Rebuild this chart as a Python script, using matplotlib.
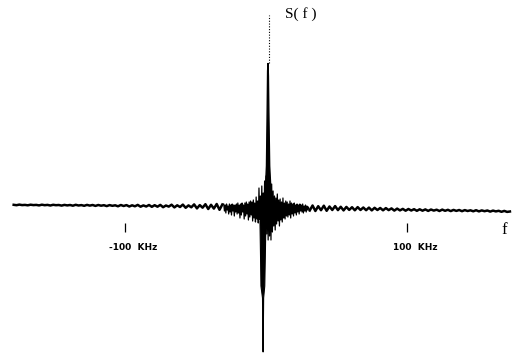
import numpy as np
import matplotlib
matplotlib.use('Agg')
import matplotlib.pyplot as plt

# spectrum S(f), frequency in kHz, amplitude in arbitrary units
# outer left band, every 2 kHz from -179 to -31
f_left = np.arange(-179, -30, 2)
s_left = [1.2, 0.8, 1.4, 0.9, 1.1, 0.7, 1.3, 0.9, 1.1, 0.6,
          1.3, 0.8, 1.1, 0.5, 1.2, 0.8, 1.0, 0.4, 1.1, 0.6,
          1.0, 0.3, 1.2, 0.5, 0.9, 0.2, 1.1, 0.4, 1.0, 0.1,
          1.0, 0.3, 0.8, -0.1, 0.9, 0.2, 0.7, -0.3, 1.0, 0.0,
          0.9, -0.5, 0.7, -0.3, 1.1, -0.7, 0.6, -0.5, 1.0, -0.8,
          0.8, -0.7, 1.1, -1.2, 0.5, -0.6, 1.3, -1.4, 0.7, -1.0,
          1.4, -1.8, 0.6, -1.3, 1.6, -2.4, 0.9, -1.7, 1.8, -3.0,
          1.2, -2.6, 2.0, -3.8, 1.5]

# burst around the carrier, every 0.5 kHz from -30 to 30
f_mid = np.arange(-30, 30.5, 0.5)
s_mid = [2, -5, 1, -7, 2, -4, 0, -8, 2, -6,
         1, -9, 2, -5, 1, -10, 1, -6, 2, -8,
         3, -7, 1, -12, 2, -9, 3, -6, 1, -13,
         3, -10, 4, -8, 2, -14, 4, -11, 5, -9,
         4, -15, 6, -12, 3, -16, 9, -13, 5, -17,
         18, -14, 10, -17, 20, -22, 13, -18, 25, -30,
         30, -28, 35, -34, 40, -30, 28, -34, 22, -26,
         15, -20, 10, -24, 8, -18, 12, -15, 6, -20,
         7, -14, 4, -16, 8, -12, 3, -13, 5, -10,
         4, -11, 2, -9, 5, -12, 3, -8, 2, -10,
         3, -7, 1, -9, 2, -6, 1, -8, 2, -5,
         1, -6, 2, -7, 0, -5, 1, -6, 0, -4,
         -1]

# outer right band, every 2 kHz from 31 to 173
f_right = np.arange(31, 174, 2)
s_right = [-4.5, 0.5, -5.0, -0.2, -4.2, 0.3, -4.8, -0.5, -4.0, -0.1,
           -4.1, -0.8, -4.4, -0.9, -3.9, -1.2, -4.3, -1.1, -4.0, -1.5,
           -4.2, -1.6, -4.4, -1.8, -4.0, -2.0, -4.3, -2.1, -4.1, -2.4,
           -4.6, -2.6, -4.4, -2.9, -4.7, -3.0, -4.5, -3.2, -4.8, -3.3,
           -4.7, -3.4, -4.9, -3.5, -4.6, -3.7, -5.0, -3.6, -4.8, -3.8,
           -5.1, -3.9, -4.9, -4.0, -5.2, -4.1, -5.0, -4.3, -5.3, -4.2,
           -5.4, -4.4, -5.2, -4.5, -5.6, -4.6, -5.4, -4.8, -5.8, -4.9,
           -5.9, -5.5]

# carrier peak (up) and the negative line just left of it
carrier_f = [-0.5, 0.3, 0.8, 1.1, 1.4, 1.7, 2.0, 2.6, 3.5]
carrier_s = [15, 40, 95, 135, 143, 130, 95, 40, 15]
neg_f = [-4.3, -3.9, -3.6, -2.5, -2.15, -2.05, -1.7, -0.9, -0.5, -0.1]
neg_s = [-15, -50, -80, -92, -146, -146, -92, -80, -50, -15]

tick_khz = [-100, 100]
tick_labels = ['-100  KHz', '100  KHz']

fig = plt.figure(figsize=(5.15, 3.54), dpi=100)
ax = fig.add_axes([0, 0, 1, 1])
ax.set_xlim(-188.7, 176.6)
ax.set_ylim(-148, 206)
ax.axis('off')

ax.plot(f_left, s_left, color='black', lw=1.8)
ax.plot(f_right, s_right, color='black', lw=1.8)
ax.plot(np.concatenate([f_left[-1:], f_mid, f_right[:1]]),
        np.concatenate([s_left[-1:], s_mid, s_right[:1]]), color='black', lw=0.9)
ax.fill(carrier_f, carrier_s, color='black', lw=1.0)
ax.fill(neg_f, neg_s, color='black', lw=0.8)

# dotted vertical S(f) axis above the peak
ax.vlines(1.8, 143, 191, colors='black', linestyles=(0, (1, 1.5)), lw=0.8)

ax.vlines(tick_khz, -26, -17, colors='black', lw=0.9)
for t, lab in zip(tick_khz, tick_labels):
    ax.text(t + 6, -41.5, lab, ha='center', va='center', fontsize=6.5,
            fontweight='bold', family='DejaVu Sans')

ax.text(13.5, 192, 'S( f )', ha='left', va='center', fontsize=11,
        family='Liberation Serif')
ax.text(169, -24, 'f', ha='center', va='center', fontsize=12,
        family='Liberation Serif')

fig.savefig('out.png', dpi=100)
